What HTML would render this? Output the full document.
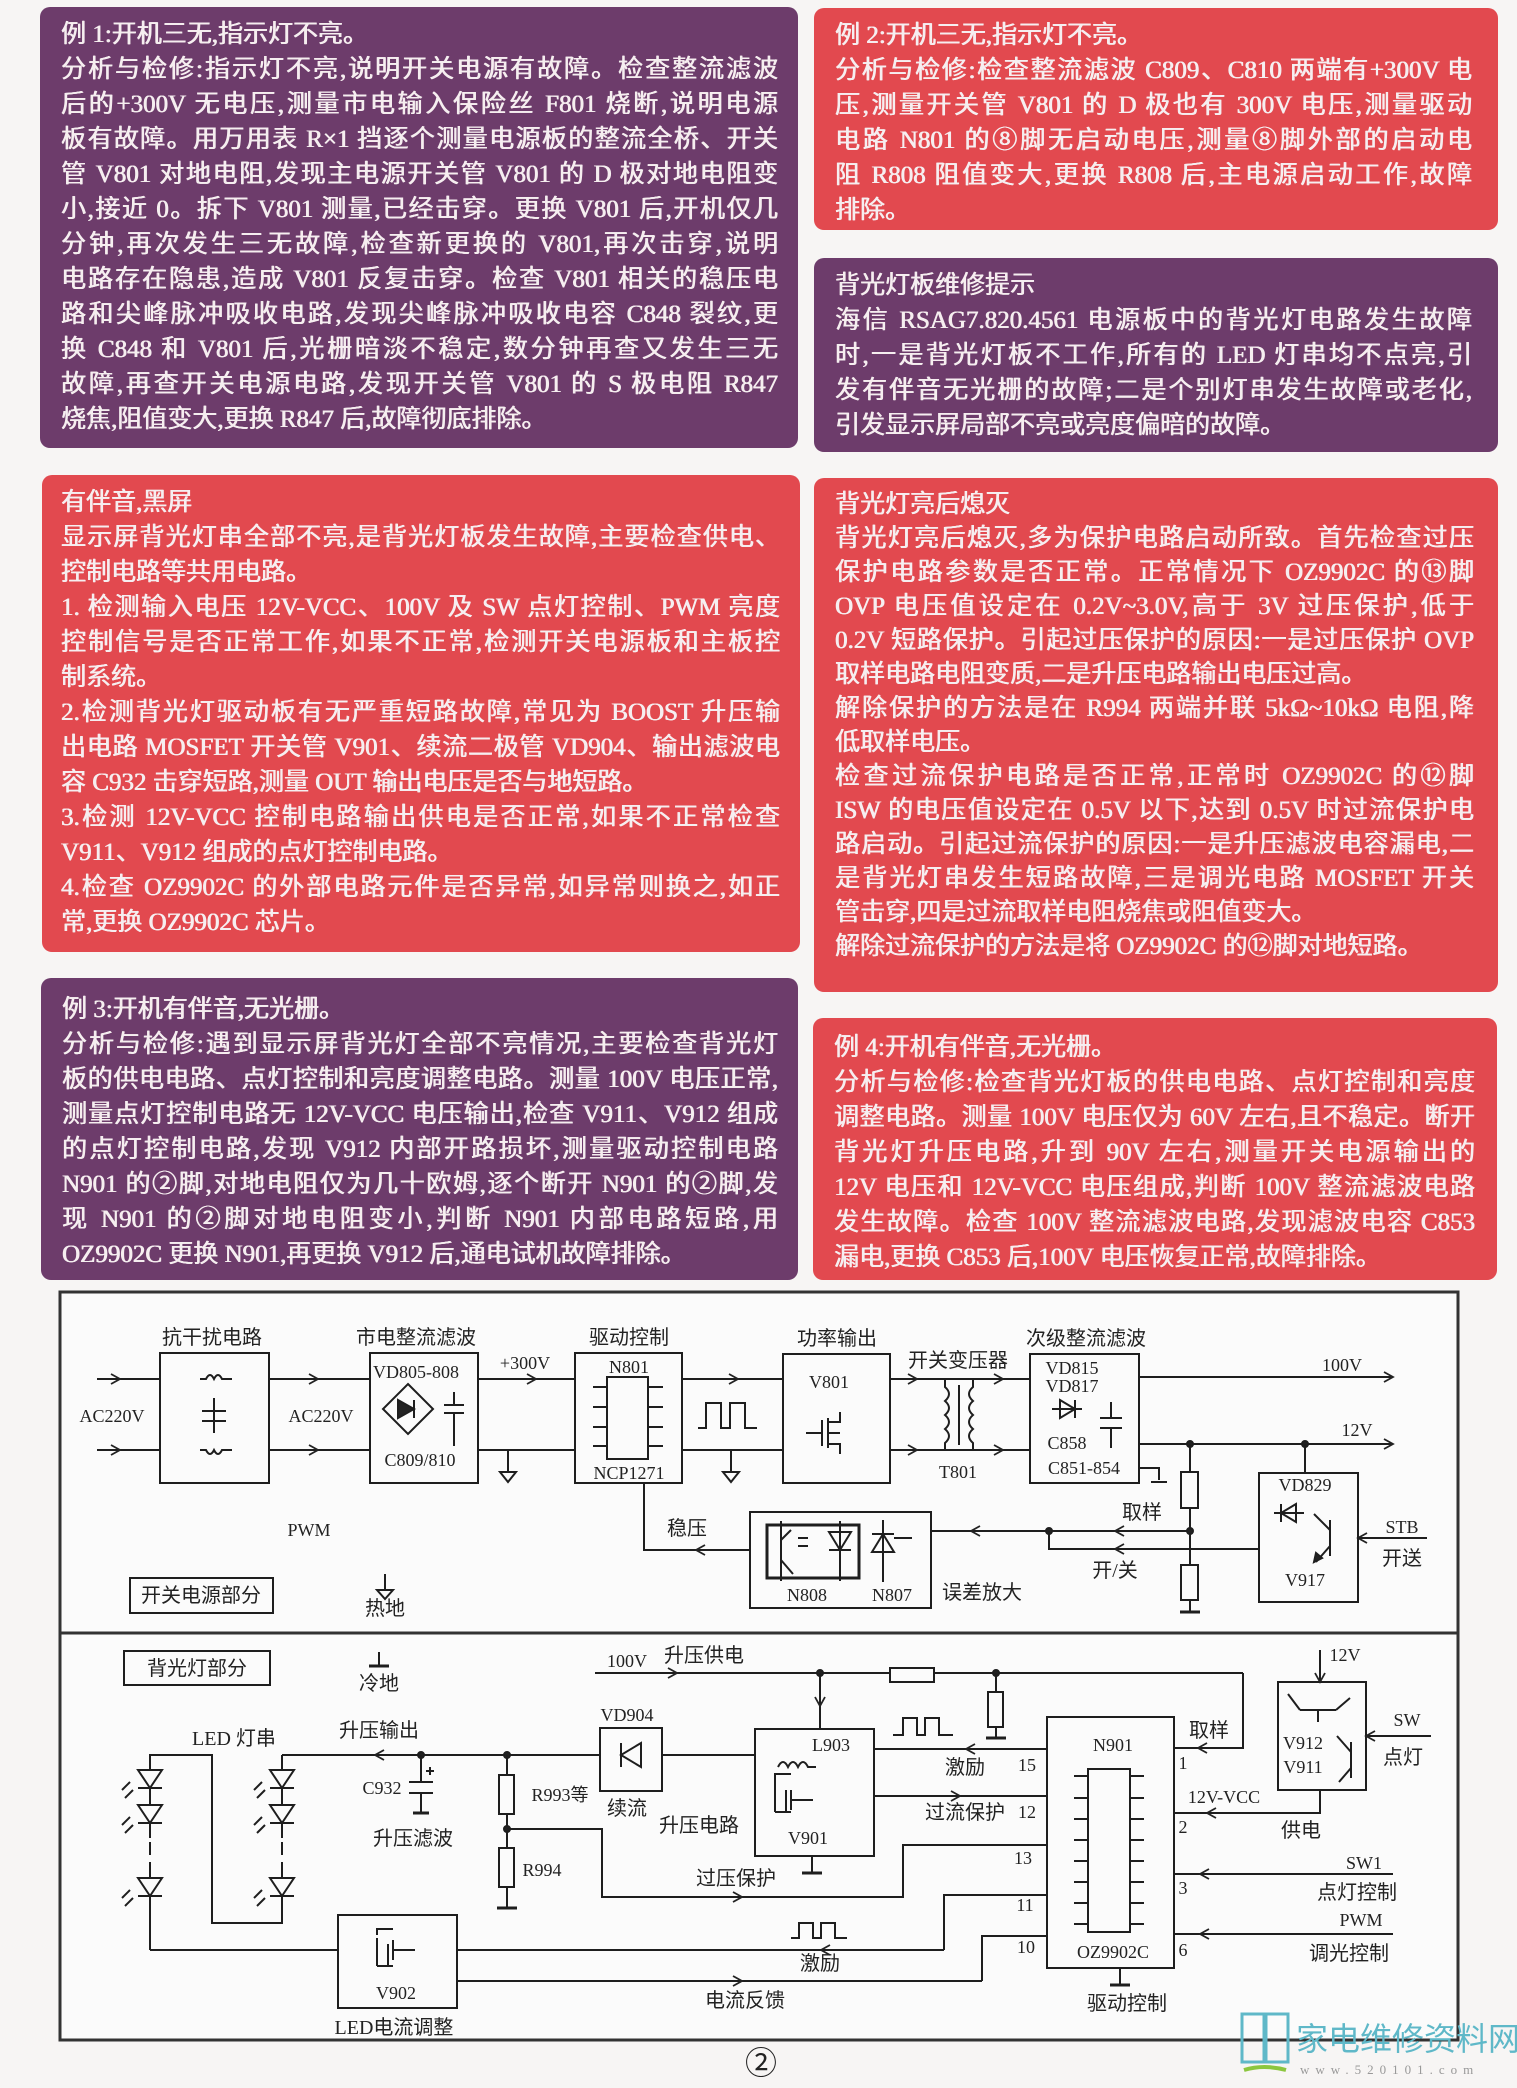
<!DOCTYPE html>
<html><head><meta charset="utf-8">
<style>
body{margin:0;width:1517px;height:2088px;background:#f7f5f4;position:relative;overflow:hidden;font-family:"Liberation Serif","Noto Sans CJK SC",serif;}
.b{position:absolute;border-radius:10px;color:#f6eef0;font-size:25px;line-height:35px;box-sizing:border-box;padding:10px 20px 0 21px;text-shadow:0.5px 0 0 #f6eef0,-0.3px 0 0 #f6eef0;}
.p{background:#6d3c6b;}
.r{background:#e2494f;}
.b div{text-align:justify;text-align-last:justify;white-space:nowrap;height:35px;}
.b div.l{text-align-last:left;}
svg{position:absolute;left:0;top:0;}
svg text{font-family:"Liberation Serif","Noto Sans CJK SC",serif;fill:#222;}
</style></head><body>

<div class="b p" style="left:40px;top:7px;width:758px;height:441px;">
<div class="l">例 1:开机三无,指示灯不亮。</div>
<div>分析与检修:指示灯不亮,说明开关电源有故障。检查整流滤波</div>
<div>后的+300V 无电压,测量市电输入保险丝 F801 烧断,说明电源</div>
<div>板有故障。用万用表 R×1 挡逐个测量电源板的整流全桥、开关</div>
<div>管 V801 对地电阻,发现主电源开关管 V801 的 D 极对地电阻变</div>
<div>小,接近 0。拆下 V801 测量,已经击穿。更换 V801 后,开机仅几</div>
<div>分钟,再次发生三无故障,检查新更换的 V801,再次击穿,说明</div>
<div>电路存在隐患,造成 V801 反复击穿。检查 V801 相关的稳压电</div>
<div>路和尖峰脉冲吸收电路,发现尖峰脉冲吸收电容 C848 裂纹,更</div>
<div>换 C848 和 V801 后,光栅暗淡不稳定,数分钟再查又发生三无</div>
<div>故障,再查开关电源电路,发现开关管 V801 的 S 极电阻 R847</div>
<div class="l">烧焦,阻值变大,更换 R847 后,故障彻底排除。</div>
</div>

<div class="b r" style="left:814px;top:8px;width:684px;height:222px;padding-right:26px;">
<div class="l">例 2:开机三无,指示灯不亮。</div>
<div>分析与检修:检查整流滤波 C809、C810 两端有+300V 电</div>
<div>压,测量开关管 V801 的 D 极也有 300V 电压,测量驱动</div>
<div>电路 N801 的⑧脚无启动电压,测量⑧脚外部的启动电</div>
<div>阻 R808 阻值变大,更换 R808 后,主电源启动工作,故障</div>
<div class="l">排除。</div>
</div>

<div class="b p" style="left:814px;top:258px;width:684px;height:194px;padding-right:26px;">
<div class="l">背光灯板维修提示</div>
<div>海信 RSAG7.820.4561 电源板中的背光灯电路发生故障</div>
<div>时,一是背光灯板不工作,所有的 LED 灯串均不点亮,引</div>
<div>发有伴音无光栅的故障;二是个别灯串发生故障或老化,</div>
<div class="l">引发显示屏局部不亮或亮度偏暗的故障。</div>
</div>

<div class="b r" style="left:42px;top:475px;width:758px;height:477px;padding-left:19px;">
<div class="l">有伴音,黑屏</div>
<div>显示屏背光灯串全部不亮,是背光灯板发生故障,主要检查供电、</div>
<div class="l">控制电路等共用电路。</div>
<div>1. 检测输入电压 12V-VCC、100V 及 SW 点灯控制、PWM 亮度</div>
<div>控制信号是否正常工作,如果不正常,检测开关电源板和主板控</div>
<div class="l">制系统。</div>
<div>2.检测背光灯驱动板有无严重短路故障,常见为 BOOST 升压输</div>
<div>出电路 MOSFET 开关管 V901、续流二极管 VD904、输出滤波电</div>
<div class="l">容 C932 击穿短路,测量 OUT 输出电压是否与地短路。</div>
<div>3.检测 12V-VCC 控制电路输出供电是否正常,如果不正常检查</div>
<div class="l">V911、V912 组成的点灯控制电路。</div>
<div>4.检查 OZ9902C 的外部电路元件是否异常,如异常则换之,如正</div>
<div class="l">常,更换 OZ9902C 芯片。</div>
</div>

<div class="b r" style="left:814px;top:478px;width:684px;height:514px;padding-right:24px;line-height:34px;">
<div class="l" style="height:34px">背光灯亮后熄灭</div>
<div style="height:34px">背光灯亮后熄灭,多为保护电路启动所致。首先检查过压</div>
<div style="height:34px">保护电路参数是否正常。正常情况下 OZ9902C 的⑬脚</div>
<div style="height:34px">OVP 电压值设定在 0.2V~3.0V,高于 3V 过压保护,低于</div>
<div style="height:34px">0.2V 短路保护。引起过压保护的原因:一是过压保护 OVP</div>
<div class="l" style="height:34px">取样电路电阻变质,二是升压电路输出电压过高。</div>
<div style="height:34px">解除保护的方法是在 R994 两端并联 5kΩ~10kΩ 电阻,降</div>
<div class="l" style="height:34px">低取样电压。</div>
<div style="height:34px">检查过流保护电路是否正常,正常时 OZ9902C 的⑫脚</div>
<div style="height:34px">ISW 的电压值设定在 0.5V 以下,达到 0.5V 时过流保护电</div>
<div style="height:34px">路启动。引起过流保护的原因:一是升压滤波电容漏电,二</div>
<div style="height:34px">是背光灯串发生短路故障,三是调光电路 MOSFET 开关</div>
<div class="l" style="height:34px">管击穿,四是过流取样电阻烧焦或阻值变大。</div>
<div class="l" style="height:34px">解除过流保护的方法是将 OZ9902C 的⑫脚对地短路。</div>
</div>

<div class="b p" style="left:41px;top:978px;width:757px;height:302px;padding-top:14px;">
<div class="l">例 3:开机有伴音,无光栅。</div>
<div>分析与检修:遇到显示屏背光灯全部不亮情况,主要检查背光灯</div>
<div>板的供电电路、点灯控制和亮度调整电路。测量 100V 电压正常,</div>
<div>测量点灯控制电路无 12V-VCC 电压输出,检查 V911、V912 组成</div>
<div>的点灯控制电路,发现 V912 内部开路损坏,测量驱动控制电路</div>
<div>N901 的②脚,对地电阻仅为几十欧姆,逐个断开 N901 的②脚,发</div>
<div>现 N901 的②脚对地电阻变小,判断 N901 内部电路短路,用</div>
<div class="l">OZ9902C 更换 N901,再更换 V912 后,通电试机故障排除。</div>
</div>

<div class="b r" style="left:813px;top:1018px;width:684px;height:262px;padding-top:12px;padding-right:22px;">
<div class="l">例 4:开机有伴音,无光栅。</div>
<div>分析与检修:检查背光灯板的供电电路、点灯控制和亮度</div>
<div>调整电路。测量 100V 电压仅为 60V 左右,且不稳定。断开</div>
<div>背光灯升压电路,升到 90V 左右,测量开关电源输出的</div>
<div>12V 电压和 12V-VCC 电压组成,判断 100V 整流滤波电路</div>
<div>发生故障。检查 100V 整流滤波电路,发现滤波电容 C853</div>
<div class="l">漏电,更换 C853 后,100V 电压恢复正常,故障排除。</div>
</div>

<svg width="1517" height="2088" viewBox="0 0 1517 2088">
<defs>
<marker id="a" markerWidth="12" markerHeight="12" refX="10" refY="6" orient="auto" markerUnits="userSpaceOnUse"><path d="M1,1 L10,6 L1,11" fill="none" stroke="#222" stroke-width="1.8"/></marker>
</defs>
<rect x="60" y="1292" width="1398" height="748" fill="#fbfbfb" stroke="#333" stroke-width="3"/>
<line x1="60" y1="1633" x2="1458" y2="1633" stroke="#333" stroke-width="3"/>
<g stroke="#1e1e1e" stroke-width="2" fill="none">
<line x1="97" y1="1379" x2="160" y2="1379"/><line x1="97" y1="1379" x2="120" y2="1379" marker-end="url(#a)"/>
<line x1="97" y1="1450" x2="160" y2="1450"/><line x1="97" y1="1450" x2="120" y2="1450" marker-end="url(#a)"/>
<rect x="160" y="1353" width="109" height="130"/>
<path d="M200,1379 h6 q4,-8 8,0 q4,-8 8,0 h10"/>
<path d="M200,1450 h6 q4,8 8,0 q4,8 8,0 h10"/>
<line x1="202" y1="1411" x2="226" y2="1411"/><line x1="202" y1="1421" x2="226" y2="1421"/><line x1="214" y1="1398" x2="214" y2="1433"/>
<line x1="269" y1="1379" x2="370" y2="1379"/><line x1="269" y1="1379" x2="318" y2="1379" marker-end="url(#a)"/>
<line x1="269" y1="1450" x2="370" y2="1450"/><line x1="269" y1="1450" x2="318" y2="1450" marker-end="url(#a)"/>
<rect x="370" y="1353" width="108" height="130"/>
<path d="M408,1384 L433,1409 L408,1434 L383,1409 Z"/>
<path d="M398,1400 L414,1409 L398,1418 Z" fill="#222"/><line x1="414" y1="1400" x2="414" y2="1418"/>
<line x1="444" y1="1405" x2="464" y2="1405"/><line x1="444" y1="1413" x2="464" y2="1413"/><line x1="454" y1="1392" x2="454" y2="1405"/><line x1="454" y1="1413" x2="454" y2="1446"/>
<line x1="478" y1="1379" x2="575" y2="1379"/><line x1="478" y1="1379" x2="536" y2="1379" marker-end="url(#a)"/>
<line x1="478" y1="1450" x2="575" y2="1450"/>
<line x1="508" y1="1450" x2="508" y2="1472"/><path d="M500,1472 h16 l-8,10 z"/>
<rect x="575" y="1353" width="107" height="130"/>
<rect x="607" y="1377" width="41" height="82"/>
<path d="M593,1387h14M593,1407h14M593,1427h14M593,1446h14M648,1387h15M648,1407h15M648,1427h15M648,1446h15"/>
<line x1="682" y1="1379" x2="783" y2="1379"/><line x1="682" y1="1379" x2="738" y2="1379" marker-end="url(#a)"/>
<path d="M698,1428 h8 v-25 h15 v25 h9 v-25 h15 v25 h12"/>
<line x1="682" y1="1450" x2="783" y2="1450"/>
<line x1="731" y1="1450" x2="731" y2="1472"/><path d="M723,1472 h16 l-8,10 z"/>
<path d="M644,1483 V1550 H750"/><line x1="750" y1="1550" x2="696" y2="1550" marker-end="url(#a)"/>
<rect x="783" y="1354" width="107" height="129"/>
<path d="M806,1433 h16 M822,1420 v26 M828,1418 v30 M828,1422 h12 v-10 M828,1444 h12 v10 M828,1433 h12"/>
<line x1="890" y1="1379" x2="1030" y2="1379"/><line x1="890" y1="1379" x2="917" y2="1379" marker-end="url(#a)"/><line x1="975" y1="1379" x2="1003" y2="1379" marker-end="url(#a)"/>
<line x1="890" y1="1450" x2="1030" y2="1450"/><line x1="890" y1="1450" x2="917" y2="1450" marker-end="url(#a)"/><line x1="975" y1="1450" x2="1003" y2="1450" marker-end="url(#a)"/>
<path d="M945,1379 v8 q8,7 0,14 q8,7 0,14 q8,7 0,14 q8,7 0,14 v7"/>
<path d="M973,1379 v8 q-8,7 0,14 q-8,7 0,14 q-8,7 0,14 q-8,7 0,14 v7"/>
<line x1="959" y1="1385" x2="959" y2="1445"/>
<rect x="1030" y="1354" width="109" height="129"/>
<path d="M1052,1409 h30"/><path d="M1060,1400 L1075,1409 L1060,1418 Z"/><line x1="1075" y1="1400" x2="1075" y2="1418"/>
<line x1="1100" y1="1418" x2="1122" y2="1418"/><line x1="1100" y1="1428" x2="1122" y2="1428"/><line x1="1111" y1="1402" x2="1111" y2="1418"/><line x1="1111" y1="1428" x2="1111" y2="1448"/>
<path d="M1139,1468 h20 v12"/><line x1="1151" y1="1482" x2="1167" y2="1482"/>
<line x1="1139" y1="1377" x2="1393" y2="1377" marker-end="url(#a)"/>
<line x1="1139" y1="1444" x2="1393" y2="1444" marker-end="url(#a)"/>
<circle cx="1190" cy="1444" r="3" fill="#222"/><circle cx="1305" cy="1444" r="3" fill="#222"/>
<line x1="1190" y1="1444" x2="1190" y2="1612"/>
<rect x="1181" y="1472" width="17" height="36" fill="#fbfbfb"/><rect x="1181" y="1565" width="17" height="35" fill="#fbfbfb"/>
<line x1="1180" y1="1612" x2="1200" y2="1612" stroke-width="3"/>
<line x1="1305" y1="1444" x2="1305" y2="1473"/>
<rect x="1259" y="1473" width="99" height="129"/>
<path d="M1274,1513 h30 M1296,1504 L1281,1513 L1296,1522 Z M1281,1504 v18"/>
<path d="M1330,1520 v36 M1330,1530 l-16,-16 M1330,1546 l-14,16" /><path d="M1314,1562 l2,-9 l6,5 z" fill="#222"/>
<line x1="1427" y1="1538" x2="1358" y2="1538" marker-end="url(#a)"/>
<line x1="1190" y1="1531" x2="931" y2="1531"/><line x1="1190" y1="1531" x2="1115" y2="1531" marker-end="url(#a)"/><line x1="1000" y1="1531" x2="971" y2="1531" marker-end="url(#a)"/>
<circle cx="1049" cy="1531" r="3" fill="#222"/><circle cx="1190" cy="1531" r="3" fill="#222"/>
<path d="M1259,1549 H1049 V1531"/><line x1="1180" y1="1549" x2="1115" y2="1549" marker-end="url(#a)"/>
<rect x="750" y="1512" width="181" height="96"/>
<rect x="767" y="1525" width="92" height="53" stroke-width="3"/>
<path d="M781,1521 v60 M781,1540 l10,-10 M781,1560 l12,14"/>
<path d="M829,1532 h22 l-11,18 z M829,1550 h22 M840,1521 v60"/>
<path d="M808,1538 h-10 M808,1546 h-10"/>
<path d="M883,1520 v62 M872,1552 h22 l-11,-18 z M872,1534 h22 M894,1538 h18"/>
<line x1="385" y1="1574" x2="385" y2="1590"/><path d="M377,1590 h16 l-8,9 z"/>
<rect x="130" y="1578" width="143" height="35"/>
<rect x="124" y="1651" width="146" height="34"/>
<line x1="379" y1="1652" x2="379" y2="1665"/><line x1="369" y1="1666" x2="389" y2="1666" stroke-width="3"/>
<line x1="595" y1="1673" x2="1243" y2="1673"/><line x1="595" y1="1673" x2="677" y2="1673" marker-end="url(#a)"/>
<path d="M1243,1673 V1748 H1174"/><line x1="1243" y1="1748" x2="1198" y2="1748" marker-end="url(#a)"/>
<circle cx="820" cy="1673" r="3" fill="#222"/><line x1="820" y1="1673" x2="820" y2="1729"/><line x1="820" y1="1673" x2="820" y2="1706" marker-end="url(#a)"/>
<rect x="890" y="1668" width="44" height="14" fill="#fbfbfb"/>
<circle cx="996" cy="1673" r="3" fill="#222"/><line x1="996" y1="1673" x2="996" y2="1737"/>
<rect x="988" y="1692" width="15" height="35" fill="#fbfbfb"/><line x1="986" y1="1738" x2="1006" y2="1738" stroke-width="3"/>
<rect x="755" y="1729" width="119" height="127"/>
<path d="M778,1767 q5,-10 10,0 q5,-10 10,0 q5,-10 10,0 h8"/>
<path d="M775,1782 v-8 h16 M775,1782 v30 M786,1790 v22 M791,1800 h22 M791,1790 v20 M791,1812 h-16"/>
<line x1="812" y1="1856" x2="812" y2="1872"/><line x1="802" y1="1873" x2="822" y2="1873" stroke-width="3"/>
<path d="M893,1735 h10 v-17 h14 v17 h8 v-17 h14 v17 h14"/>
<line x1="1047" y1="1749" x2="874" y2="1749"/><line x1="1047" y1="1749" x2="966" y2="1749" marker-end="url(#a)"/>
<line x1="874" y1="1796" x2="1047" y2="1796"/><line x1="874" y1="1796" x2="960" y2="1796" marker-end="url(#a)"/>
<rect x="600" y="1728" width="62" height="63"/>
<path d="M619,1745 h24 l-12,20 z" transform="rotate(90 631 1755)"/><line x1="621" y1="1743" x2="621" y2="1767"/>
<line x1="662" y1="1755" x2="755" y2="1755"/>
<line x1="282" y1="1755" x2="600" y2="1755"/><line x1="420" y1="1755" x2="375" y2="1755" marker-end="url(#a)"/>
<circle cx="421" cy="1755" r="3" fill="#222"/><circle cx="507" cy="1755" r="3" fill="#222"/>
<line x1="421" y1="1755" x2="421" y2="1782"/><line x1="409" y1="1782" x2="433" y2="1782"/><line x1="409" y1="1793" x2="433" y2="1793"/><line x1="421" y1="1793" x2="421" y2="1812"/><line x1="413" y1="1813" x2="429" y2="1813" stroke-width="3"/>
<path d="M426,1771 h8 M430,1767 v8"/>
<line x1="507" y1="1755" x2="507" y2="1907"/>
<rect x="499" y="1775" width="15" height="39" fill="#fbfbfb"/><rect x="499" y="1848" width="15" height="39" fill="#fbfbfb"/>
<line x1="497" y1="1908" x2="517" y2="1908" stroke-width="3"/>
<circle cx="507" cy="1829" r="3" fill="#222"/>
<path d="M507,1829 H602 V1897 H903 V1845 H1047"/><line x1="700" y1="1897" x2="742" y2="1897" marker-end="url(#a)"/>
<path d="M150,1950 V1755 H212 V1923 H282 V1755"/>
<path d="M338,1950 H150"/>
<line x1="457" y1="1950" x2="944" y2="1950"/><path d="M944,1950 V1895 H1047"/><line x1="880" y1="1950" x2="821" y2="1950" marker-end="url(#a)"/>
<path d="M791,1938 h8 v-15 h14 v15 h8 v-15 h14 v15 h12"/>
<line x1="457" y1="1981" x2="982" y2="1981"/><path d="M982,1981 V1936 H1047"/><line x1="700" y1="1981" x2="742" y2="1981" marker-end="url(#a)"/>
<rect x="338" y="1915" width="119" height="93"/>
<path d="M377,1935 v-6 h16 M377,1938 v28 M388,1944 v22 M393,1950 h22 M393,1940 v20 M393,1966 h-16"/>
<rect x="1047" y="1717" width="127" height="251"/>
<rect x="1088" y="1769" width="42" height="163"/>
<path d="M1074,1776h14M1074,1798h14M1074,1819h14M1074,1840h14M1074,1861h14M1074,1882h14M1074,1903h14M1074,1924h14M1130,1776h14M1130,1798h14M1130,1819h14M1130,1840h14M1130,1861h14M1130,1882h14M1130,1903h14M1130,1924h14"/>
<line x1="1120" y1="1968" x2="1120" y2="1984"/><line x1="1110" y1="1985" x2="1130" y2="1985" stroke-width="3"/>
<path d="M1174,1813 H1320 V1790"/><line x1="1260" y1="1813" x2="1207" y2="1813" marker-end="url(#a)"/>
<rect x="1278" y="1682" width="88" height="108"/>
<line x1="1320" y1="1650" x2="1320" y2="1682" marker-end="url(#a)"/>
<path d="M1300,1710 h36 M1318,1710 v12 M1300,1710 l-12,-16 M1336,1710 l14,-12"/>
<path d="M1351,1742 v36 M1351,1752 l-14,-16 M1351,1768 l-12,14"/>
<line x1="1431" y1="1736" x2="1366" y2="1736" marker-end="url(#a)"/>
<line x1="1393" y1="1874" x2="1174" y2="1874"/><line x1="1260" y1="1874" x2="1200" y2="1874" marker-end="url(#a)"/>
<line x1="1393" y1="1934" x2="1174" y2="1934"/><line x1="1260" y1="1934" x2="1200" y2="1934" marker-end="url(#a)"/>
</g>
<g fill="#fbfbfb" stroke="#1e1e1e" stroke-width="2">
<path d="M138,1770 h24 l-12,18 z"/><path d="M138,1805 h24 l-12,18 z"/><path d="M138,1878 h24 l-12,18 z"/>
<path d="M270,1770 h24 l-12,18 z"/><path d="M270,1805 h24 l-12,18 z"/><path d="M270,1878 h24 l-12,18 z"/>
<path d="M138,1788h24M138,1823h24M138,1896h24M270,1788h24M270,1823h24M270,1896h24"/>
<path d="M130,1782 l-8,8 M133,1790 l-8,8 M262,1782 l-8,8 M265,1790 l-8,8 M130,1817 l-8,8 M133,1825 l-8,8 M262,1817 l-8,8 M265,1825 l-8,8 M130,1890 l-8,8 M133,1898 l-8,8 M262,1890 l-8,8 M265,1898 l-8,8"/>
</g>
<g stroke="#fbfbfb" stroke-width="4"><line x1="150" y1="1838" x2="150" y2="1842"/><line x1="150" y1="1855" x2="150" y2="1862"/><line x1="282" y1="1838" x2="282" y2="1842"/><line x1="282" y1="1855" x2="282" y2="1862"/></g>
<g font-size="20" text-anchor="middle">
<text x="212" y="1344">抗干扰电路</text><text x="416" y="1344">市电整流滤波</text><text x="629" y="1344">驱动控制</text>
<text x="837" y="1345">功率输出</text><text x="958" y="1367">开关变压器</text><text x="1086" y="1345">次级整流滤波</text>
<text x="687" y="1535">稳压</text><text x="1142" y="1519">取样</text><text x="1115" y="1577">开/关</text><text x="982" y="1599">误差放大</text><text x="1402" y="1565">开送</text>
<text x="201" y="1602">开关电源部分</text><text x="385" y="1615">热地</text>
<text x="197" y="1675">背光灯部分</text><text x="379" y="1690">冷地</text>
<text x="704" y="1662">升压供电</text><text x="379" y="1737">升压输出</text><text x="234" y="1745">LED 灯串</text>
<text x="413" y="1845">升压滤波</text><text x="627" y="1815">续流</text><text x="699" y="1832">升压电路</text>
<text x="736" y="1885">过压保护</text><text x="394" y="2034">LED电流调整</text><text x="745" y="2007">电流反馈</text>
<text x="965" y="1774">激励</text><text x="965" y="1819">过流保护</text><text x="820" y="1970">激励</text><text x="1209" y="1737">取样</text>
<text x="1301" y="1837">供电</text><text x="1403" y="1764">点灯</text><text x="1357" y="1899">点灯控制</text><text x="1349" y="1960">调光控制</text><text x="1127" y="2010">驱动控制</text>
</g>
<g font-size="18" text-anchor="middle">
<text x="112" y="1422">AC220V</text><text x="321" y="1422">AC220V</text><text x="416" y="1378">VD805-808</text><text x="420" y="1466">C809/810</text>
<text x="525" y="1369">+300V</text><text x="629" y="1373">N801</text><text x="629" y="1479">NCP1271</text><text x="309" y="1536">PWM</text>
<text x="829" y="1388">V801</text><text x="958" y="1478">T801</text><text x="1072" y="1374">VD815</text><text x="1072" y="1392">VD817</text>
<text x="1067" y="1449">C858</text><text x="1084" y="1474">C851-854</text><text x="1342" y="1371">100V</text><text x="1357" y="1436">12V</text>
<text x="1305" y="1491">VD829</text><text x="1305" y="1586">V917</text><text x="1402" y="1533">STB</text>
<text x="807" y="1601">N808</text><text x="892" y="1601">N807</text>
<text x="627" y="1667">100V</text><text x="627" y="1721">VD904</text><text x="382" y="1794">C932</text><text x="560" y="1801">R993等</text><text x="542" y="1876">R994</text>
<text x="396" y="1999">V902</text><text x="831" y="1751">L903</text><text x="808" y="1844">V901</text>
<text x="1113" y="1751">N901</text><text x="1113" y="1958">OZ9902C</text>
<text x="1027" y="1771">15</text><text x="1027" y="1818">12</text><text x="1023" y="1864">13</text><text x="1025" y="1911">11</text><text x="1026" y="1953">10</text>
<text x="1183" y="1769">1</text><text x="1183" y="1833">2</text><text x="1183" y="1894">3</text><text x="1183" y="1956">6</text>
<text x="1224" y="1803">12V-VCC</text><text x="1345" y="1661">12V</text><text x="1303" y="1749">V912</text><text x="1303" y="1773">V911</text>
<text x="1407" y="1726">SW</text><text x="1364" y="1869">SW1</text><text x="1361" y="1926">PWM</text>
</g>
<text x="761" y="2074" font-size="32" text-anchor="middle">②</text>
<g stroke="#5fb8c8" stroke-width="3" fill="none"><path d="M1242,2014 h22 v48 h-22 z M1266,2014 h22 v48 h-22 z"/></g>
<path d="M1244,2070 q20,-6 42,0" stroke="#8cc63f" stroke-width="4" fill="none"/>
<text x="1296" y="2050" font-size="32" style="fill:#5fb8c8">家电维修资料网</text>
<text x="1300" y="2074" font-size="13" letter-spacing="6" style="fill:#999">www.520101.com</text>
</svg>
</body></html>
